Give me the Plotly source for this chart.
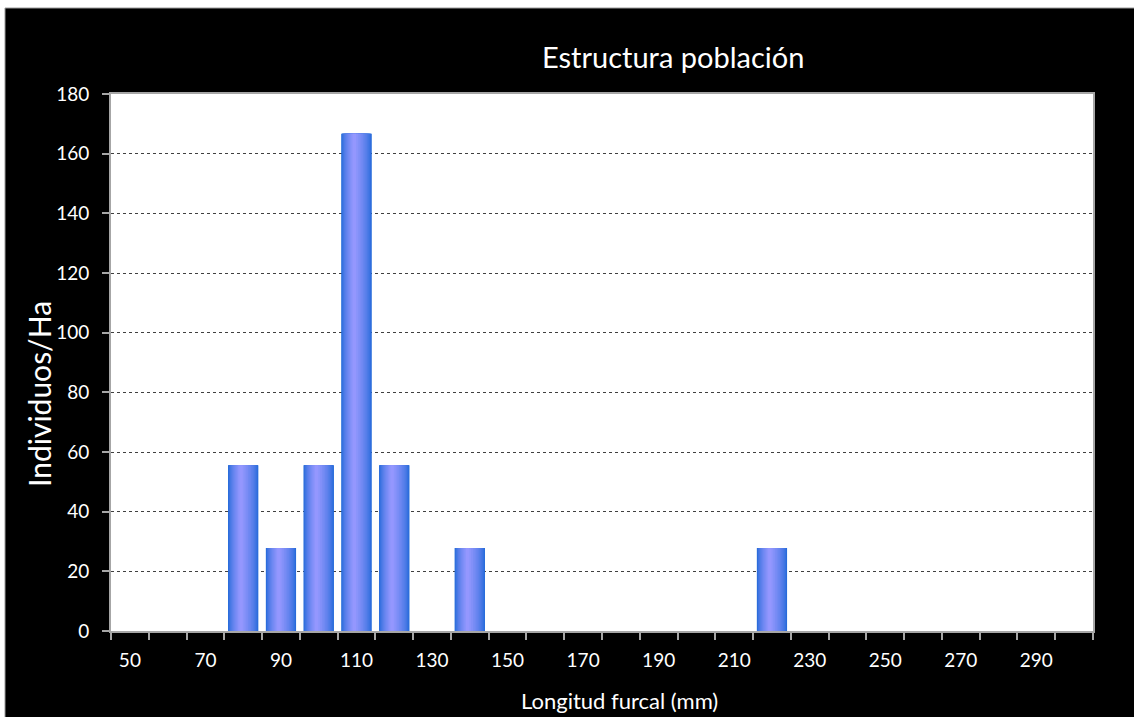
import plotly.graph_objects as go

# ---- data ----
longitud = [50, 60, 70, 80, 90, 100, 110, 120, 130, 140, 150, 160, 170, 180, 190,
            200, 210, 220, 230, 240, 250, 260, 270, 280, 290, 300]
individuos = [0, 0, 0, 55.56, 27.78, 55.56, 166.67, 55.56, 0, 27.78, 0, 0, 0, 0, 0,
              0, 0, 27.78, 0, 0, 0, 0, 0, 0, 0, 0]
x_tick_vals = [50, 70, 90, 110, 130, 150, 170, 190, 210, 230, 250, 270, 290]
x_tick_text = [str(v) for v in x_tick_vals]
y_tick_vals = [0, 20, 40, 60, 80, 100, 120, 140, 160, 180]

W, H = 1134, 717
L, R, T, B = 111, 41, 94, 86
pw, ph = W - L - R, H - T - B

fig = go.Figure()

# gradient bars simulated with nested overlaid bars
dark = (26, 102, 214)
light = (153, 153, 255)
bar_w = 8.0
peak = 0.42
N = 14
for k in range(N):
    lv = k / N
    t0 = peak * lv ** 1.6
    t1 = 1 - (1 - peak) * lv ** 1.6
    cl = (k + 0.5) / N if k > 0 else 0
    c = tuple(round(dark[i] + (light[i] - dark[i]) * min(1, cl)) for i in range(3))
    fig.add_trace(go.Bar(
        x=longitud, y=individuos,
        width=bar_w * (t1 - t0),
        offset=-bar_w / 2 + bar_w * t0,
        marker=dict(color="rgb(%d,%d,%d)" % c, line=dict(width=0)),
        showlegend=False, hoverinfo="skip"))

fig.update_layout(
    width=W, height=H,
    margin=dict(l=L, r=R, t=T, b=B, pad=0),
    paper_bgcolor="white", plot_bgcolor="white",
    barmode="overlay",
    font=dict(family="Lato, Open Sans, sans-serif", color="white", size=19),
    showlegend=False,
)

# black chart area and white plot area as shapes
fig.add_shape(type="rect", xref="paper", yref="paper", layer="below",
              x0=(5 - L) / pw, x1=(W + 5 - L) / pw,
              y0=-(B + 10) / ph, y1=(H - B - 8) / ph,
              fillcolor="black", line=dict(color="#9a9a9a", width=1))
fig.add_shape(type="rect", xref="paper", yref="paper", layer="below",
              x0=0, x1=1, y0=0, y1=1, fillcolor="white", line=dict(width=0))

fig.update_xaxes(
    range=[45, 305], tickmode="array", tickvals=x_tick_vals, ticktext=x_tick_text,
    ticks="outside", ticklen=0, showgrid=False, zeroline=False,
    showline=True, linecolor="#a6a6a6", linewidth=2, mirror=True,
    tickfont=dict(size=19, color="white"), ticklabelstandoff=11,
    minor=dict(tickmode="array", tickvals=[45 + 10 * i for i in range(27)],
               ticks="outside", ticklen=7, tickcolor="#a6a6a6", tickwidth=2,
               showgrid=False),
)
fig.update_yaxes(
    range=[0, 180], tickmode="array", tickvals=y_tick_vals,
    ticks="outside", ticklen=7, tickcolor="#a6a6a6", tickwidth=2,
    showgrid=True, gridcolor="#404040", griddash="dot", gridwidth=1,
    zeroline=False, showline=True, linecolor="#a6a6a6", linewidth=2, mirror=True,
    tickfont=dict(size=19, color="white"), ticklabelstandoff=9,
)

fig.add_annotation(text="Estructura población", xref="paper", yref="paper",
                   x=(673 - L) / pw, y=(H - 57 - B) / ph, xanchor="center", yanchor="middle",
                   showarrow=False, font=dict(size=29, color="white"))
fig.add_annotation(text="Individuos/Ha", xref="paper", yref="paper",
                   x=(39 - L) / pw, y=(H - 394 - B) / ph, xanchor="center", yanchor="middle",
                   textangle=-90, showarrow=False, font=dict(size=30, color="white"))
fig.add_annotation(text="Longitud furcal (mm)", xref="paper", yref="paper",
                   x=(619 - L) / pw, y=(H - 700 - B) / ph, xanchor="center", yanchor="middle",
                   showarrow=False, font=dict(size=22, color="white"))

fig.write_html("out.html", config={"displayModeBar": False},
               post_script="document.body.style.margin='0';document.body.style.padding='0';")
